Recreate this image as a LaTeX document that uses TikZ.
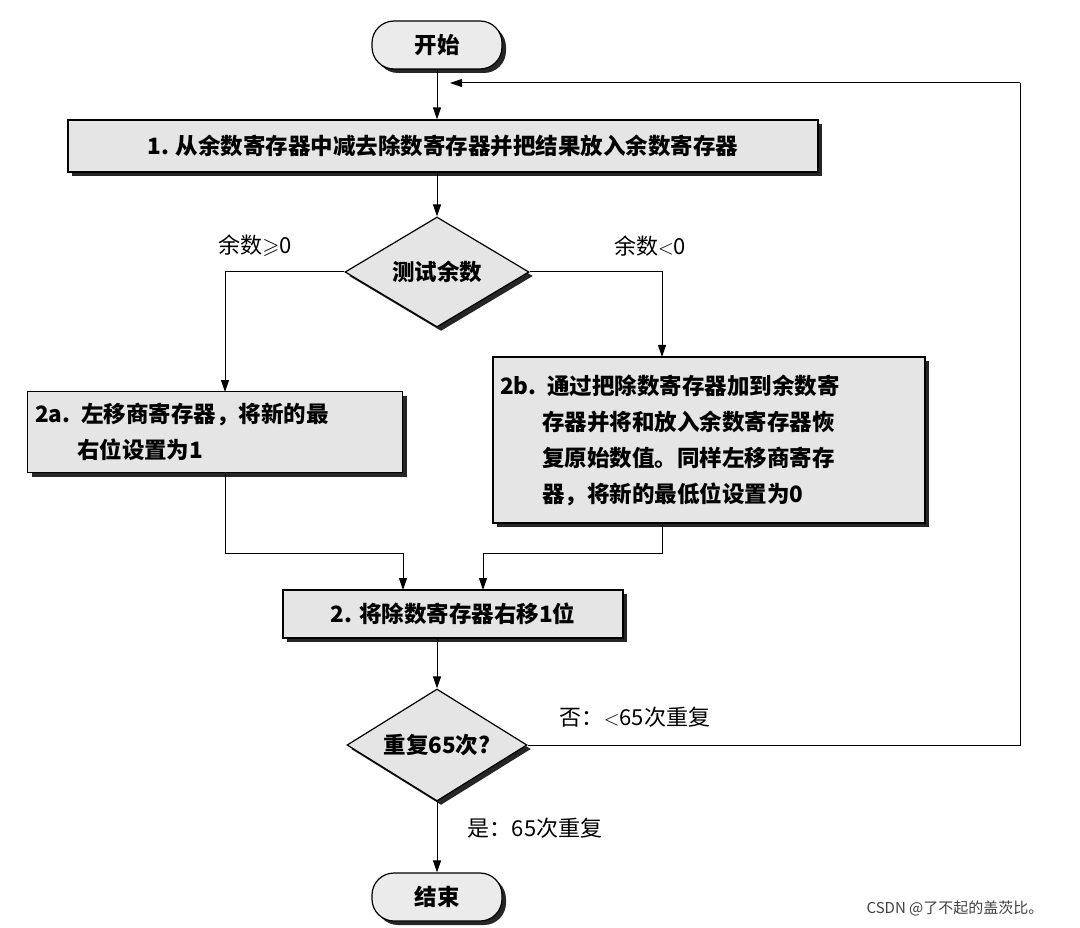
\documentclass[tikz,border=0pt]{standalone}
\usepackage{amssymb}
\usepackage{fontspec}
\setmainfont{Noto Sans CJK SC}
\usetikzlibrary{shapes.geometric,arrows.meta,shadows}
\begin{document}
\begin{tikzpicture}[x=1pt,y=-1pt,
  font=\bfseries\fontsize{22.5}{36}\selectfont,
  sh/.style={drop shadow={shadow xshift=4pt,shadow yshift=-4pt,fill=black!85,opacity=1}},
  proc/.style={draw,line width=1.2pt,fill=black!10,sh,inner sep=0pt},
  term/.style={draw,line width=1.2pt,fill=black!8,rounded corners=22pt,minimum width=130pt,minimum height=48pt,sh},
  dec/.style={draw,line width=1.2pt,fill=black!10,diamond,aspect=1.65,inner sep=2pt,sh},
  lab/.style={font=\fontsize{22}{26}\selectfont},
  ar/.style={line width=1pt,-{Triangle[length=12pt,width=8pt]}},
  ln/.style={line width=1pt}]
\useasboundingbox (0,0) rectangle (1080,928);
\node[term] (start) at (437,45) {开始};
\node[proc,minimum width=750pt,minimum height=52pt] (b1) at (443,146) {1. 从余数寄存器中减去除数寄存器并把结果放入余数寄存器};
\node[dec,minimum width=184pt,minimum height=110pt] (d1) at (437,272) {测试余数};
\node[lab] (l1) at (255,246) {余数$\geqslant$0};
\node[lab] (l2) at (650,246) {余数$<$0};
\node[proc,minimum width=375pt,minimum height=81pt,text width=360pt,align=left] (a) at (215,432) {2a. 左移商寄存器，将新的最\\\hspace{42pt}右位设置为1};
\node[proc,minimum width=432pt,minimum height=166pt,text width=418pt,align=left] (b) at (709,440) {2b. 通过把除数寄存器加到余数寄\\\hspace{42pt}存器并将和放入余数寄存器恢\\\hspace{42pt}复原始数值。同样左移商寄存\\\hspace{42pt}器，将新的最低位设置为0};
\node[proc,minimum width=340pt,minimum height=48pt] (b2) at (453,614) {2. 将除数寄存器右移1位};
\node[dec,minimum width=180pt,minimum height=112pt] (d2) at (437,745) {重复65次?};
\node[lab] (l3) at (635,717) {否：$<$65次重复};
\node[lab] (l4) at (535,828) {是：65次重复};
\node[term] (end) at (437,897) {结束};
\node[font=\fontsize{15}{18}\selectfont,text=black!75] (wm) at (955,908) {CSDN @了不起的盖茨比。};
\coordinate (top) at (437,83);
\coordinate (rt) at (1020,83);
\draw[ar] (start) -- (b1.north -| start);
\draw[ar] (b1.south -| d1) -- (d1);
\draw[ar] (d1.west) -| (225,392);
\draw[ar] (d1.east) -| (662,357);
\draw[ar] (225,473) |- (403,553) -- (403,590);
\draw[ar] (662,523) |- (483,553) -- (483,590);
\draw[ar] (b2.south -| d2) -- (d2);
\draw[ar] (d2) -- (end);
\draw[ln] (d2.east) -| (rt);
\draw[ar] (rt) -- (450,83);
\end{tikzpicture}
\end{document}
